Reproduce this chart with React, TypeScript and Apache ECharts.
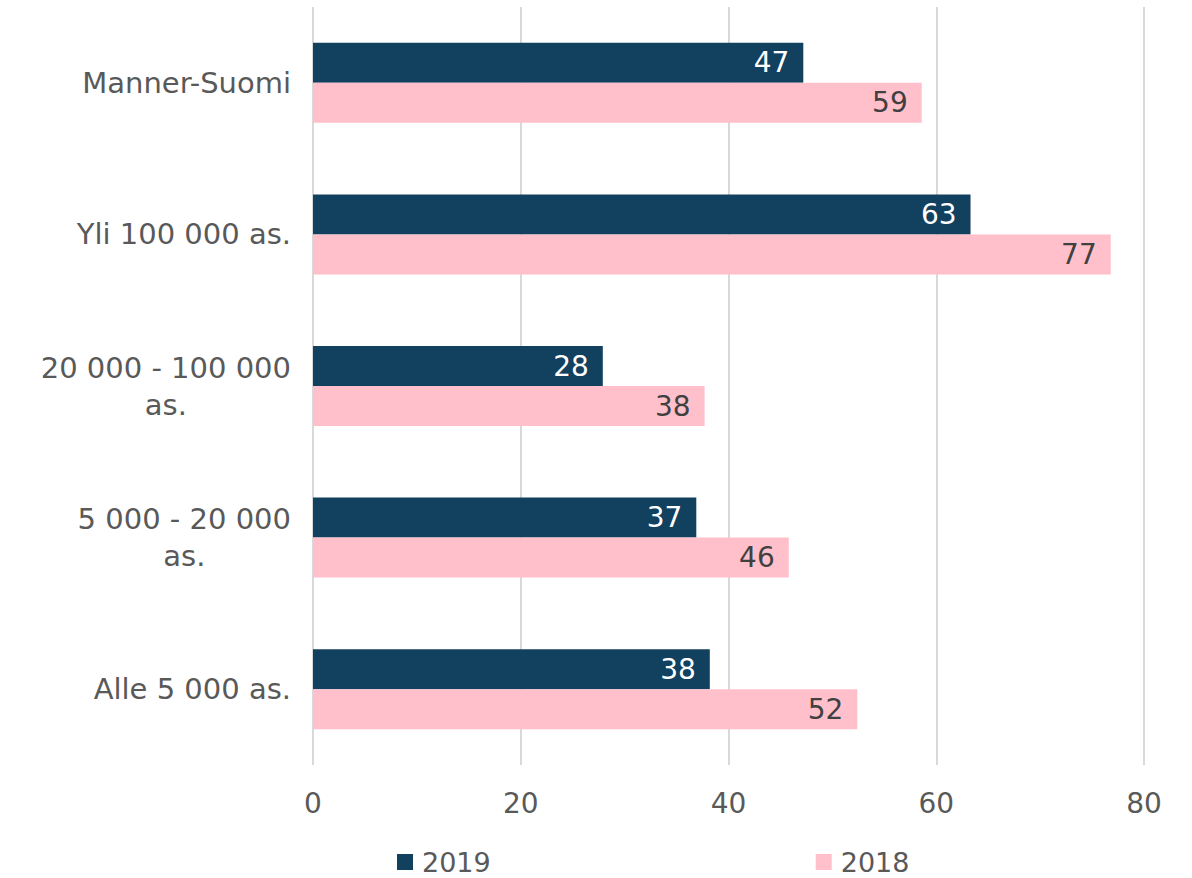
import React, { useEffect, useRef } from "react";
import * as echarts from "echarts";

const categories = [
  "Manner-Suomi",
  "Yli 100 000 as.",
  "20 000 - 100 000\nas.",
  "5 000 - 20 000\nas.",
  "Alle 5 000 as.",
];
const values2019 = [47.2, 63.3, 27.9, 36.9, 38.2];
const values2018 = [58.6, 76.8, 37.7, 45.8, 52.4];
const xTicks = { min: 0, max: 80, interval: 20 };

const FONT = "'DejaVu Sans', 'Open Sans', sans-serif";
const GREY = "#595959";
const FS = 28;
const FS_CAT = 29;

export default function App() {
  const ref = useRef<HTMLDivElement>(null);
  useEffect(() => {
    const chart = echarts.init(ref.current!, null, { renderer: "svg" });
    chart.setOption({
      animation: false,
      textStyle: { fontFamily: FONT },
      grid: { left: 313, right: 48, top: 7, bottom: 113, containLabel: false },
      legend: {
        data: ["2019", "2018"],
        left: 397,
        top: 848,
        padding: 0,
        itemWidth: 16,
        itemHeight: 16,
        itemGap: 325,
        icon: "rect",
        textStyle: {
          fontSize: 27,
          lineHeight: 28,
          color: GREY,
          fontFamily: FONT,
          padding: [0, 0, 0, 4],
        },
      },
      xAxis: {
        type: "value",
        min: xTicks.min,
        max: xTicks.max,
        interval: xTicks.interval,
        axisLine: { show: false },
        axisTick: { show: false },
        splitLine: { lineStyle: { color: "#d9d9d9", width: 2 } },
        axisLabel: { fontSize: FS, color: GREY, margin: 24, fontFamily: FONT },
      },
      yAxis: {
        type: "category",
        inverse: true,
        data: categories,
        axisLine: { show: false },
        axisTick: { show: false },
        axisLabel: {
          fontSize: FS_CAT,
          color: GREY,
          margin: 22,
          fontFamily: FONT,
          lineHeight: 37,
          formatter: (v: string) =>
            v
              .split("\n")
              .map((s) => `{c|${s}}`)
              .join("\n"),
          rich: {
            c: { align: "center", fontSize: FS_CAT, color: GREY, fontFamily: FONT, lineHeight: 37 },
          },
        },
      },
      series: [
        {
          name: "2019",
          type: "bar",
          data: values2019,
          barWidth: 40,
          barGap: "0%",
          itemStyle: { color: "#12405f" },
          label: {
            show: true,
            position: "insideRight",
            distance: 14,
            color: "#ffffff",
            fontSize: FS,
            fontFamily: FONT,
            formatter: (p: any) => Math.round(p.value).toString(),
          },
        },
        {
          name: "2018",
          type: "bar",
          data: values2018,
          barWidth: 40,
          barGap: "0%",
          itemStyle: { color: "#ffc0cb" },
          label: {
            show: true,
            position: "insideRight",
            distance: 14,
            color: "#404040",
            fontSize: FS,
            fontFamily: FONT,
            formatter: (p: any) => Math.round(p.value).toString(),
          },
        },
      ],
    });
    return () => chart.dispose();
  }, []);
  return (
    <div
      ref={ref}
      style={{ width: 1192, height: 878, position: "absolute", left: 0, top: 0 }}
    />
  );
}
